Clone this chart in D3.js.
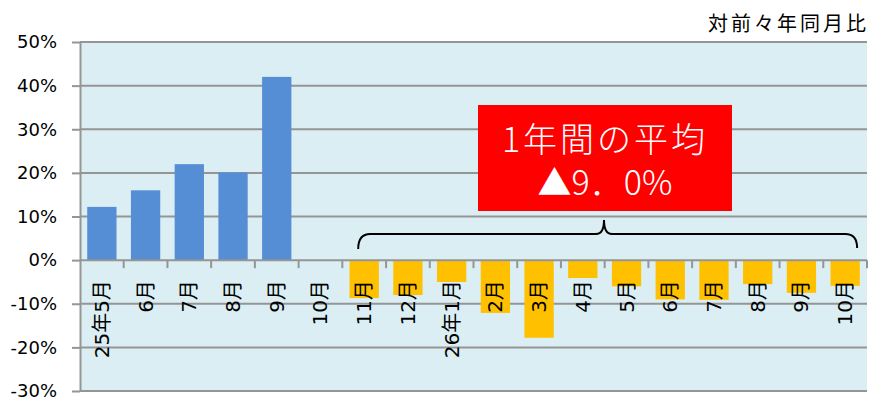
<!DOCTYPE html>
<html><head><meta charset="utf-8">
<script src="https://cdn.jsdelivr.net/npm/d3@7"></script>
<style>
html,body{margin:0;padding:0;background:#fff;}
svg{display:block;font-family:"DejaVu Sans","Noto Sans CJK JP",sans-serif;}
</style></head>
<body><svg id="c" width="872" height="398"></svg>
<script>
const categories = ["25年5月","6月","7月","8月","9月","10月","11月","12月","26年1月","2月","3月","4月","5月","6月","7月","8月","9月","10月"];
const blueValues   = [12.2,16.0,22.0,20.1,42.0,null,null,null,null,null,null,null,null,null,null,null,null,null];
const yellowValues = [null,null,null,null,null,null,-8.7,-8.0,-5.0,-12.1,-17.8,-4.1,-6.0,-9.0,-9.1,-5.5,-7.5,-5.9];
const yTicks = [-30,-20,-10,0,10,20,30,40,50];
const unitLabel = "対前々年同月比";
const boxLine1 = "1年間の平均";
const boxLine2 = "▲9．0%";

const svg = d3.select("#c");
const L = 80, R = 867, T = 42, B = 391;
const idx = categories.map((d,i)=>i);
const x = d3.scaleBand().domain(idx).range([L,R]).paddingInner(0.33).paddingOuter(0.165);
const y = d3.scaleLinear().domain([-30,50]).range([B,T]);
const grid = "#959595";

svg.append("rect").attr("x",L).attr("y",T).attr("width",R-L).attr("height",B-T).attr("fill","#DAEEF3");

// gridlines
svg.append("g").selectAll("line").data(yTicks.filter(d=>d!==0)).join("line")
  .attr("x1",L).attr("x2",R).attr("y1",d=>y(d)).attr("y2",d=>y(d))
  .attr("stroke",grid).attr("stroke-width",2);

// y axis
const ya = svg.append("g").attr("transform",`translate(${L},0)`)
  .call(d3.axisLeft(y).tickValues(yTicks).tickFormat(d=>d+"%").tickSizeInner(8).tickSizeOuter(0).tickPadding(15));
ya.select(".domain").attr("stroke",grid).attr("stroke-width",2);
ya.selectAll(".tick line").attr("stroke",grid).attr("stroke-width",2);
ya.selectAll(".tick text").attr("font-size",18).attr("fill","#000").attr("font-family","DejaVu Sans, sans-serif");

// bars
svg.append("g").selectAll("rect").data(blueValues.map((v,i)=>({v,i})).filter(d=>d.v!=null)).join("rect")
  .attr("x",d=>x(d.i)).attr("width",x.bandwidth())
  .attr("y",d=>y(Math.max(0,d.v))).attr("height",d=>Math.abs(y(d.v)-y(0)))
  .attr("fill","#558ED5");
svg.append("g").selectAll("rect").data(yellowValues.map((v,i)=>({v,i})).filter(d=>d.v!=null)).join("rect")
  .attr("x",d=>x(d.i)).attr("width",x.bandwidth())
  .attr("y",d=>y(Math.max(0,d.v))).attr("height",d=>Math.abs(y(d.v)-y(0)))
  .attr("fill","#FFC000");

// zero axis with category ticks
svg.append("line").attr("x1",L).attr("x2",R).attr("y1",y(0)).attr("y2",y(0)).attr("stroke",grid).attr("stroke-width",2);
const step = x.step();
const bounds = d3.range(1,categories.length+1).map(i=>x(i-1)+x.bandwidth()+ (step-x.bandwidth())/2);
svg.append("g").selectAll("line").data(bounds).join("line")
  .attr("x1",d=>d).attr("x2",d=>d).attr("y1",y(0)).attr("y2",y(0)+8)
  .attr("stroke",grid).attr("stroke-width",2);

// category labels
svg.append("g").selectAll("text").data(idx).join("text")
  .attr("transform",i=>`translate(${x(i)+x.bandwidth()/2},${y(0)+20}) rotate(-90)`)
  .attr("text-anchor","end").attr("dominant-baseline","central")
  .attr("font-size",20).attr("fill","#000")
  .text(i=>categories[i]);

// unit label
svg.append("text").attr("x",R+2).attr("y",31).attr("text-anchor","end")
  .attr("font-size",20).attr("letter-spacing",3).attr("fill","#000")
  .attr("font-family","Noto Sans CJK JP, sans-serif").text(unitLabel);

// brace
const bx1 = x(6)+x.bandwidth()/2-6, bx2 = x(17)+x.bandwidth()/2+12;
const by = 234;
const bmx = 604;
const r = 12;
svg.append("path")
  .attr("d",`M${bx1},${by+15} Q${bx1},${by} ${bx1+r},${by} L${bmx-8},${by} Q${bmx},${by} ${bmx},${by-14} Q${bmx},${by} ${bmx+8},${by} L${bx2-r},${by} Q${bx2},${by} ${bx2},${by+14}`)
  .attr("fill","none").attr("stroke","#000").attr("stroke-width",2);

// red box
svg.append("rect").attr("x",478).attr("y",105).attr("width",254).attr("height",106).attr("fill","#FF0000");
svg.append("text").attr("x",605).attr("y",152).attr("text-anchor","middle")
  .attr("font-size",34).attr("letter-spacing",3).attr("fill","#fff").attr("font-weight",300)
  .attr("font-family","Noto Sans CJK JP, sans-serif").text(boxLine1);
svg.append("text").attr("x",605).attr("y",195).attr("text-anchor","middle")
  .attr("font-size",34).attr("fill","#fff").attr("font-weight",300)
  .attr("font-family","Noto Sans CJK JP, sans-serif").text(boxLine2);
</script>
</body></html>
